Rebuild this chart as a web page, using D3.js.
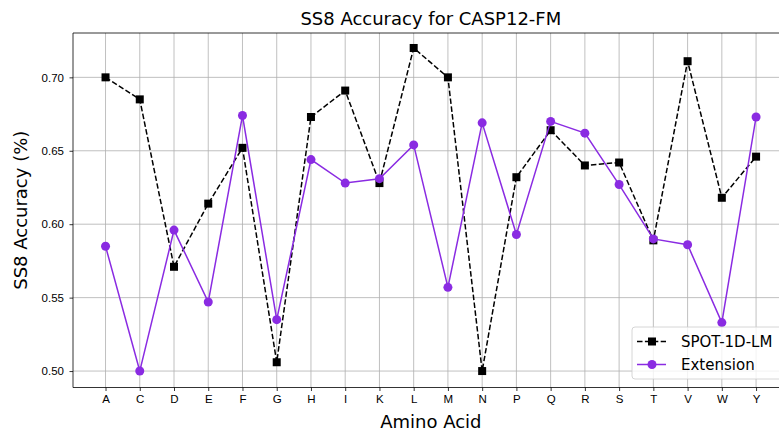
<!DOCTYPE html>
<html lang="en">
<head>
<meta charset="utf-8">
<title>SS8 Accuracy for CASP12-FM</title>
<script src="https://cdnjs.cloudflare.com/ajax/libs/d3/7.8.5/d3.min.js"></script>
<style>
  body { margin: 0; background: white; }
  svg { display: block; font-family: "DejaVu Sans", sans-serif; }
  .axis text { font-size: 11.5px; fill: #000; }
  .axis path, .axis line { stroke: #000; stroke-width: 0.8; }
  .grid line { stroke: #b0b0b0; stroke-width: 0.8; }
</style>
</head>
<body>
<div id="chart"></div>
<script>
var aminoAcids = ["A","C","D","E","F","G","H","I","K","L","M","N","P","Q","R","S","T","V","W","Y"];
var spotValues = [0.700,0.685,0.571,0.614,0.652,0.506,0.673,0.691,0.628,0.720,0.700,0.500,0.632,0.664,0.640,0.642,0.589,0.711,0.618,0.646];
var extValues  = [0.585,0.500,0.596,0.547,0.674,0.535,0.644,0.628,0.631,0.654,0.557,0.669,0.593,0.670,0.662,0.627,0.590,0.586,0.533,0.673];
var yTicks = [0.50,0.55,0.60,0.65,0.70];

var W = 779, H = 432;
var margin = {top: 33, left: 73};
var plotRight = 788.6, plotBottom = 387.5;

var svg = d3.select("#chart").append("svg")
  .attr("width", W).attr("height", H);

var x = d3.scalePoint().domain(aminoAcids).range([margin.left, plotRight]).padding(0.95);
var y = d3.scaleLinear().domain([0.4888, 0.7302]).range([plotBottom, margin.top]);

// grid
var grid = svg.append("g").attr("class", "grid");
grid.selectAll(".gx").data(aminoAcids).enter().append("line")
  .attr("x1", function(d) { return x(d); }).attr("x2", function(d) { return x(d); })
  .attr("y1", margin.top).attr("y2", plotBottom);
grid.selectAll(".gy").data(yTicks).enter().append("line")
  .attr("x1", margin.left).attr("x2", plotRight)
  .attr("y1", function(d) { return y(d); }).attr("y2", function(d) { return y(d); });

// axes
svg.append("g").attr("class", "axis")
  .attr("transform", "translate(0," + plotBottom + ")")
  .call(d3.axisBottom(x).tickSize(3.5).tickPadding(4).tickSizeOuter(0))
  .select(".domain").remove();
svg.append("g").attr("class", "axis")
  .attr("transform", "translate(" + margin.left + ",0)")
  .call(d3.axisLeft(y).tickValues(yTicks).tickFormat(d3.format(".2f")).tickSize(3.5).tickPadding(5.5))
  .select(".domain").remove();

// spines
svg.append("path")
  .attr("d", "M" + plotRight + "," + margin.top + "H" + margin.left + "V" + plotBottom + "H" + plotRight)
  .attr("fill", "none").attr("stroke", "#000").attr("stroke-width", 0.8);

var line = d3.line()
  .x(function(d, i) { return x(aminoAcids[i]); })
  .y(function(d) { return y(d); });

var purple = "#8a2be2";

// SPOT-1D-LM (black dashed)
svg.append("path").datum(spotValues)
  .attr("d", line).attr("fill", "none")
  .attr("stroke", "#000").attr("stroke-width", 1.5)
  .attr("stroke-dasharray", "5.5,2.4");
svg.selectAll(".spot").data(spotValues).enter().append("rect")
  .attr("x", function(d, i) { return x(aminoAcids[i]) - 4; })
  .attr("y", function(d) { return y(d) - 4; })
  .attr("width", 8).attr("height", 8).attr("fill", "#000");

// Extension (purple), drawn on top
svg.append("path").datum(extValues)
  .attr("d", line).attr("fill", "none")
  .attr("stroke", purple).attr("stroke-width", 1.5);
svg.selectAll(".ext").data(extValues).enter().append("circle")
  .attr("cx", function(d, i) { return x(aminoAcids[i]); })
  .attr("cy", function(d) { return y(d); })
  .attr("r", 4.5).attr("fill", purple);

// title and labels
svg.append("text")
  .attr("x", (margin.left + plotRight) / 2).attr("y", 25)
  .attr("text-anchor", "middle").style("font-size", "18px")
  .text("SS8 Accuracy for CASP12-FM");
svg.append("text")
  .attr("x", (margin.left + plotRight) / 2).attr("y", 428)
  .attr("text-anchor", "middle").style("font-size", "18px")
  .text("Amino Acid");
svg.append("text")
  .attr("transform", "translate(26.5," + ((margin.top + plotBottom) / 2) + ") rotate(-90)")
  .attr("text-anchor", "middle").style("font-size", "18px")
  .text("SS8 Accuracy (%)");

// legend
var legend = svg.append("g").attr("transform", "translate(632,327)");
legend.append("rect")
  .attr("width", 170).attr("height", 52).attr("rx", 3)
  .attr("fill", "white").attr("fill-opacity", 0.8)
  .attr("stroke", "#cccccc").attr("stroke-width", 0.8);
var legendItems = [
  {name: "SPOT-1D-LM", color: "#000", dash: "5.5,2.4", marker: "square"},
  {name: "Extension", color: purple, dash: null, marker: "circle"}
];
legendItems.forEach(function(item, i) {
  var cy = 14.5 + i * 23;
  legend.append("line")
    .attr("x1", 5).attr("x2", 34).attr("y1", cy).attr("y2", cy)
    .attr("stroke", item.color).attr("stroke-width", 1.5)
    .attr("stroke-dasharray", item.dash);
  if (item.marker === "square") {
    legend.append("rect").attr("x", 16).attr("y", cy - 4)
      .attr("width", 8).attr("height", 8).attr("fill", item.color);
  } else {
    legend.append("circle").attr("cx", 20).attr("cy", cy)
      .attr("r", 4.5).attr("fill", item.color);
  }
  legend.append("text")
    .attr("x", 49).attr("y", cy + 5.5)
    .style("font-size", "15px")
    .text(item.name);
});
</script>
</body>
</html>
